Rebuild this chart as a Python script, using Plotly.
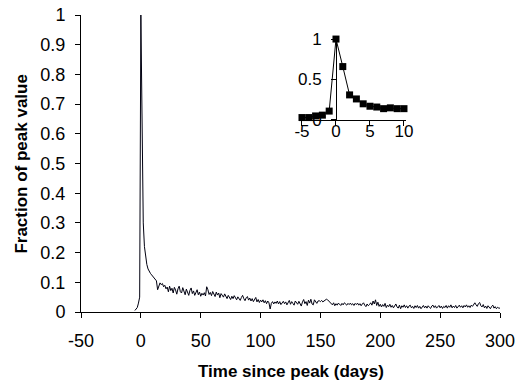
import plotly.graph_objects as go

# Main series: fraction of peak value by day since peak
days = list(range(-5, 301))
frac = [
    0.005, 0.01, 0.015, 0.03, 0.05,
    1.0,
    0.62, 0.30, 0.22, 0.18, 0.16, 0.145, 0.135, 0.13, 0.125, 0.12,
    0.115, 0.11, 0.105, 0.075, 0.09, 0.098, 0.092, 0.096, 0.085, 0.09,
    0.078, 0.084, 0.068, 0.087, 0.072, 0.08, 0.064, 0.083, 0.074, 0.06,
    0.078, 0.087, 0.068, 0.064, 0.082, 0.071, 0.058, 0.077, 0.067, 0.056,
    0.073, 0.081, 0.062, 0.071, 0.056, 0.068, 0.075, 0.058, 0.067, 0.053,
    0.063, 0.057, 0.065, 0.054, 0.085, 0.075, 0.059, 0.066, 0.055, 0.069,
    0.059, 0.052, 0.067, 0.057, 0.064, 0.048, 0.062, 0.055, 0.05, 0.061,
    0.052, 0.045, 0.056, 0.049, 0.042, 0.053, 0.045, 0.055, 0.048, 0.041,
    0.051, 0.044, 0.039, 0.049, 0.056, 0.045, 0.038, 0.048, 0.052, 0.04,
    0.047, 0.037, 0.045, 0.035, 0.043, 0.049, 0.034, 0.042, 0.032, 0.04,
    0.034, 0.041, 0.031, 0.038, 0.028, 0.037, 0.031, 0.01, 0.029, 0.035,
    0.027, 0.034, 0.029, 0.037, 0.027, 0.035, 0.025, 0.032, 0.036, 0.028,
    0.034, 0.024, 0.032, 0.039, 0.026, 0.035, 0.029, 0.023, 0.037, 0.03,
    0.026, 0.036, 0.029, 0.02, 0.034, 0.042, 0.028, 0.035, 0.022, 0.04,
    0.03, 0.043, 0.027, 0.024, 0.041, 0.034, 0.029, 0.037, 0.038, 0.035,
    0.039, 0.034, 0.037, 0.04, 0.043, 0.041, 0.036, 0.032, 0.027, 0.024,
    0.031, 0.021, 0.028, 0.023, 0.03, 0.025, 0.022, 0.029, 0.024, 0.031,
    0.026, 0.023, 0.029, 0.025, 0.03, 0.024, 0.028, 0.022, 0.029, 0.025,
    0.03, 0.023, 0.028, 0.021, 0.027, 0.031, 0.023, 0.018, 0.027, 0.021,
    0.025, 0.031, 0.023, 0.037, 0.027, 0.041, 0.022, 0.033, 0.019, 0.026,
    0.017, 0.025, 0.019, 0.029, 0.015, 0.023, 0.018, 0.026, 0.016, 0.022,
    0.014, 0.021, 0.027, 0.017, 0.013, 0.023, 0.011, 0.021, 0.016, 0.024,
    0.015, 0.021, 0.013, 0.02, 0.023, 0.014, 0.019, 0.012, 0.021, 0.015,
    0.022, 0.013, 0.019, 0.011, 0.018, 0.022, 0.014, 0.02, 0.013, 0.021,
    0.016, 0.012, 0.02, 0.023, 0.015, 0.021, 0.013, 0.019, 0.022, 0.014,
    0.02, 0.012, 0.019, 0.015, 0.022, 0.013, 0.021, 0.016, 0.024, 0.014,
    0.02, 0.015, 0.022, 0.013, 0.019, 0.023, 0.016, 0.021, 0.014, 0.022,
    0.017, 0.024, 0.016, 0.021, 0.015, 0.023, 0.019, 0.026, 0.031, 0.024,
    0.019, 0.028, 0.032, 0.021, 0.017, 0.025, 0.014, 0.02, 0.012, 0.021,
    0.015, 0.011, 0.019, 0.023, 0.013, 0.018, 0.011, 0.016, 0.013, 0.013,
]

# Inset series: days -5..10
inset_days = list(range(-5, 11))
inset_frac = [0.03, 0.03, 0.05, 0.06, 0.11, 1.0, 0.66, 0.31, 0.26, 0.20,
              0.17, 0.16, 0.14, 0.15, 0.14, 0.14]

x_ticks = [-50, 0, 50, 100, 150, 200, 250, 300]
x_ticktext = ["-50", "0", "50", "100", "150", "200", "250", "300"]
y_ticks = [0, 0.1, 0.2, 0.3, 0.4, 0.5, 0.6, 0.7, 0.8, 0.9, 1]
y_ticktext = ["0", "0.1", "0.2", "0.3", "0.4", "0.5", "0.6", "0.7", "0.8", "0.9", "1"]
inset_x_ticks = [-5, 0, 5, 10]
inset_x_ticktext = ["-5", "0", "5", "10"]
inset_y_ticks = [0, 0.5, 1]
inset_y_ticktext = ["0", "0.5", "1"]

FONT = "Liberation Sans, Arial, sans-serif"

fig = go.Figure()
fig.add_trace(go.Scatter(x=days, y=frac, mode="lines",
                         line=dict(color="#000010", width=1),
                         showlegend=False, cliponaxis=False))
fig.add_trace(go.Scatter(x=inset_days, y=inset_frac, mode="lines+markers",
                         line=dict(color="black", width=1),
                         marker=dict(symbol="square", size=7, color="black"),
                         xaxis="x2", yaxis="y2", showlegend=False, cliponaxis=False))

axis_common = dict(showline=True, linecolor="black", linewidth=1, ticks="outside",
                   ticklen=5, tickcolor="black", tickwidth=1, showgrid=False,
                   zeroline=False, mirror=False, automargin=False,
                   ticklabeloverflow="allow")

fig.update_layout(
    width=524, height=385,
    margin=dict(l=81, r=24, t=15, b=73, autoexpand=False),
    paper_bgcolor="white", plot_bgcolor="white",
    font=dict(family=FONT, color="black"),
    hovermode=False,
    xaxis=dict(range=[-50, 300], tickvals=x_ticks, ticktext=x_ticktext,
               tickfont=dict(size=18), ticklabelstandoff=7, **axis_common),
    yaxis=dict(range=[0, 1], tickvals=y_ticks, ticktext=y_ticktext,
               tickfont=dict(size=18), ticklabelstandoff=6, **axis_common),
    xaxis2=dict(domain=[0.5193, 0.7757], range=[-5.5, 10.3], anchor="y2",
                tickvals=inset_x_ticks, ticktext=inset_x_ticktext,
                tickfont=dict(size=17), ticklabelstandoff=-9, **axis_common),
    yaxis2=dict(domain=[0.6465, 0.919], range=[0, 1], anchor="free",
                position=0.6086, tickvals=inset_y_ticks, ticktext=inset_y_ticktext,
                tickfont=dict(size=17), ticklabelstandoff=6, **axis_common),
    annotations=[
        dict(text="<b>Time since peak (days)</b>", xref="paper", yref="paper",
             x=0.5, y=-0.202, yanchor="middle", xanchor="center", showarrow=False,
             font=dict(size=17)),
        dict(text="<b>Fraction of peak value</b>", xref="paper", yref="paper",
             x=-0.143, y=0.5, xanchor="center", yanchor="middle", textangle=-90,
             showarrow=False, font=dict(size=17)),
    ],
)

# remove the browser's default 8px page margin so the figure fills the window
fig.write_html("out.html", config={"displayModeBar": False},
               post_script="document.body.style.margin='0';document.body.style.overflow='hidden';")
